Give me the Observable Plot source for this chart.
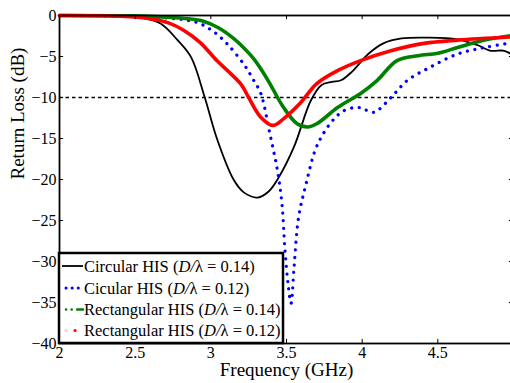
<!DOCTYPE html>
<html><head><meta charset="utf-8">
<script src="https://cdn.jsdelivr.net/npm/d3@7"></script>
<script src="https://cdn.jsdelivr.net/npm/@observablehq/plot@0.6"></script>
<style>
html,body{margin:0;padding:0;background:#fff;overflow:hidden;width:510px;height:383px;}
#wrap{position:relative;width:510px;height:383px;overflow:hidden;}
#wrap > svg:first-child{max-width:none !important;}
#legend{position:absolute;left:0;top:0;}
</style></head><body><div id="wrap"></div>
<script>
const seriesNames = ["Circular HIS (D/λ = 0.14)", "Cicular HIS (D/λ = 0.12)", "Rectangular HIS (D/λ = 0.14)", "Rectangular HIS (D/λ = 0.12)"];
const seriesColors = ["black", "blue", "green", "red"];

const circ14F = [2.0, 2.4, 2.55, 2.67, 2.78, 2.87, 2.96, 3.04, 3.15, 3.22, 3.31, 3.38, 3.45, 3.55, 3.66, 3.73, 3.80, 3.86, 3.93, 4.04, 4.14, 4.26, 4.43, 4.63, 4.76, 4.85, 4.94, 5.0];
const circ14V = [0, -0.05, -0.3, -1.0, -3.0, -5.1, -10, -15, -20, -21.6, -22.2, -21.5, -19.7, -16, -10.4, -8.5, -8.1, -7.9, -6.9, -4.7, -3.4, -2.8, -2.7, -2.9, -3.6, -4.3, -4.3, -4.9];

const circ12F = [2.0, 2.5, 2.7, 2.85, 2.93, 3.02, 3.11, 3.22, 3.28, 3.33, 3.39, 3.44, 3.47, 3.49, 3.51, 3.53, 3.55, 3.58, 3.63, 3.69, 3.75, 3.82, 3.88, 3.97, 4.02, 4.08, 4.19, 4.30, 4.45, 4.63, 4.81, 5.0];
const circ12V = [0, -0.1, -0.3, -0.6, -1.0, -2.0, -3.5, -6.0, -7.8, -9.5, -14.4, -18.9, -23, -28.6, -32.7, -35.1, -30.7, -24.6, -20.5, -16.4, -14.2, -12.5, -11.6, -11.2, -11.5, -11.8, -10, -7.9, -6.3, -4.7, -3.9, -3.3];

const rect14F = [2.0, 2.5, 2.7, 2.85, 2.95, 3.05, 3.15, 3.22, 3.28, 3.33, 3.39, 3.48, 3.57, 3.64, 3.70, 3.84, 3.99, 4.10, 4.23, 4.37, 4.50, 4.63, 4.81, 5.0];
const rect14V = [0, -0.05, -0.2, -0.4, -0.7, -1.5, -2.8, -4.0, -5.2, -6.5, -8.3, -11.2, -13.2, -13.6, -13.2, -11.2, -9.5, -7.9, -5.5, -4.9, -4.6, -3.9, -3.0, -2.4];

const rect12F = [2.0, 2.4, 2.6, 2.72, 2.82, 2.93, 3.04, 3.12, 3.2, 3.25, 3.33, 3.41, 3.48, 3.59, 3.70, 3.84, 3.99, 4.19, 4.41, 4.63, 5.0];
const rect12V = [0, -0.1, -0.4, -0.9, -1.8, -3.3, -5.5, -6.9, -8.4, -10, -12.4, -13.4, -12.6, -10.7, -8.3, -6.7, -5.5, -4.3, -3.4, -3.0, -2.6];

const xTicks = [2, 2.5, 3, 3.5, 4, 4.5, 5];
const yTicks = [0, -5, -10, -15, -20, -25, -30, -35, -40];
const threshold = -10;
const xLabel = "Frequency (GHz)";
const yLabel = "Return Loss (dB)";

const toRows = (F, V) => F.map((f, i) => ({f, v: V[i]}));
const s0 = toRows(circ14F, circ14V);
const s1 = toRows(circ12F, circ12V);
const s2 = toRows(rect14F, rect14V);
const s3 = toRows(rect12F, rect12V);

const font = "'Liberation Serif', 'Times New Roman', serif";
const fmt = d => String(d).replace("-", "\u2212");

const chart = Plot.plot({
  width: 518, height: 383,
  marginLeft: 59, marginRight: 5, marginTop: 15, marginBottom: 40,
  x: {domain: [2, 5], label: null},
  y: {domain: [-40, 0], label: null},
  style: {fontFamily: font, fontSize: "16px", color: "black", background: "white", overflow: "visible", maxWidth: "none"},
  marks: [
    Plot.ruleY([threshold], {stroke: "black", strokeWidth: 1.6, strokeDasharray: "3.5,3"}),
    Plot.line(s0, {x: "f", y: "v", stroke: seriesColors[0], strokeWidth: 1.8, curve: "catmull-rom"}),
    Plot.line(s1, {x: "f", y: "v", stroke: seriesColors[1], strokeWidth: 3.2, strokeDasharray: "0.1,7.5", strokeLinecap: "round", curve: "catmull-rom"}),
    Plot.line(s2, {x: "f", y: "v", stroke: seriesColors[2], strokeWidth: 3.6, curve: "catmull-rom"}),
    Plot.line(s3, {x: "f", y: "v", stroke: seriesColors[3], strokeWidth: 3.6, curve: "catmull-rom"}),
    Plot.ruleX(xTicks, {x: d => d, y1: -40, y2: -39.5, stroke: "black"}),
    Plot.ruleX(xTicks, {x: d => d, y1: 0, y2: -0.5, stroke: "black"}),
    Plot.ruleY(yTicks, {y: d => d, x1: 2, x2: 2.027, stroke: "black"}),
    Plot.ruleY(yTicks, {y: d => d, x1: 4.973, x2: 5, stroke: "black"}),
    Plot.axisX(xTicks, {tickSize: 0, tickPadding: 3, label: null, fontSize: 16, tickFormat: fmt}),
    Plot.axisY(yTicks, {tickSize: 0, tickPadding: 3, label: null, fontSize: 16, tickFormat: fmt}),
    Plot.frame({stroke: "black", strokeWidth: 1.8}),
    Plot.text([xLabel], {frameAnchor: "bottom", dy: 32, fontSize: 19, fill: "black"}),
    Plot.text([yLabel], {frameAnchor: "left", dx: -42, rotate: -90, fontSize: 19, fill: "black"})
  ]
});
document.getElementById("wrap").appendChild(chart);

// Legend
const lg = d3.select("#wrap").append("svg").attr("id", "legend")
  .attr("width", 510).attr("height", 383).style("pointer-events", "none");
const bx = 59, by = 253, bw = 224, bh = 90;
lg.append("rect").attr("x", bx).attr("y", by).attr("width", bw).attr("height", bh)
  .attr("fill", "white").attr("stroke", "black").attr("stroke-width", 2.5);
const rowY = [266, 288, 309.5, 330.5];
const sampleStyles = [
  {dash: null, width: 1.8},
  {dash: "0.1,6", width: 3, cap: "round"},
  {dash: "0.1,5.5,0.1,5.5,6,100", width: 2.6, cap: "round"},
  {dash: "0.1,100", width: 3, cap: "round"}
];
seriesNames.forEach((name, i) => {
  const st = sampleStyles[i];
  const x1 = i === 3 ? 75 : (i === 0 ? 62 : 66), x2 = 83;
  const ln = lg.append("line").attr("x1", x1).attr("x2", x2).attr("y1", rowY[i]).attr("y2", rowY[i])
    .attr("stroke", seriesColors[i]).attr("stroke-width", st.width);
  if (st.dash) ln.attr("stroke-dasharray", st.dash);
  if (st.cap) ln.attr("stroke-linecap", st.cap);
  if (i === 3) {
    lg.append("circle").attr("cx", 66).attr("cy", rowY[i]).attr("r", 1.5).attr("fill", "#ffc8c8");
  }
  const parts = name.match(/^(.*\()D\/(λ.*)$/);
  const t = lg.append("text").attr("x", 84).attr("y", rowY[i]).attr("dy", "0.35em")
    .attr("font-family", font).attr("font-size", 16.5).attr("fill", "black");
  t.append("tspan").text(parts[1]);
  t.append("tspan").attr("font-style", "italic").text("D/");
  t.append("tspan").text(parts[2]);
});
</script></body></html>
